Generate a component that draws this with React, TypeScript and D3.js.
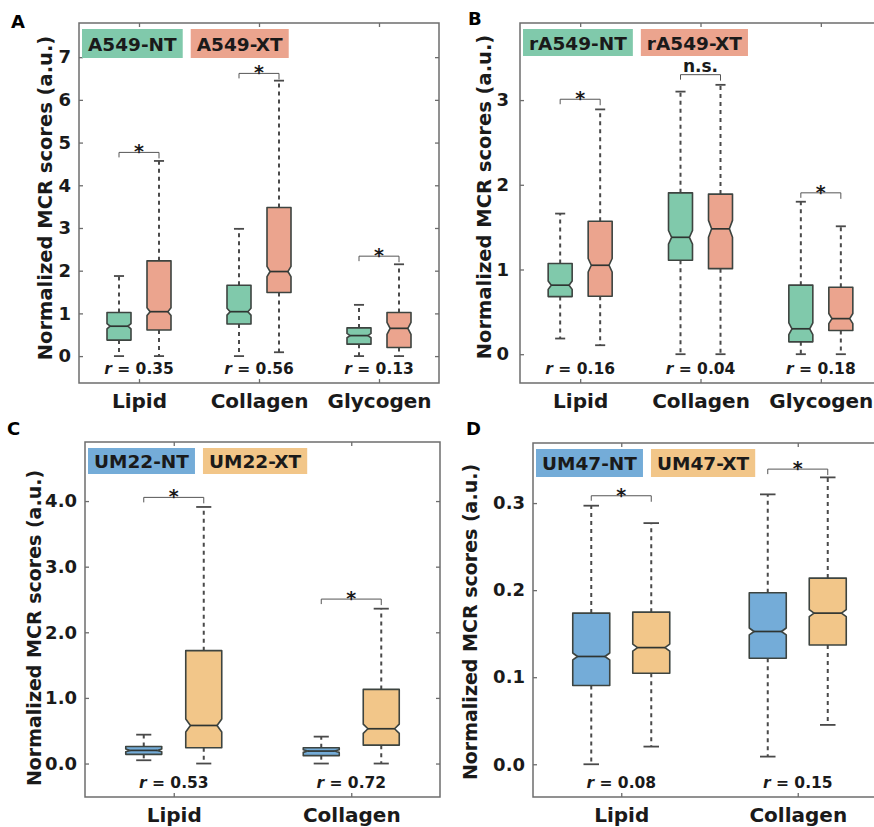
import React, { useEffect, useRef } from "react";
import * as d3 from "d3";

// box stats per category: [low whisker, q1, median, q3, high whisker, notch half-height]
const catsThree = ["Lipid", "Collagen", "Glycogen"];
const catsTwo = ["Lipid", "Collagen"];
const groups = ["NT", "XT"];

const a549NT = [[0, 0.375, 0.7, 1.02, 1.875, 0.06], [0, 0.75, 1.04, 1.66, 2.98, 0.08], [0, 0.28, 0.48, 0.66, 1.2, 0.05]];
const a549XT = [[0, 0.61, 1.04, 2.23, 4.57, 0.09], [0.09, 1.49, 1.98, 3.48, 6.45, 0.12], [0, 0.2, 0.65, 1.02, 2.15, 0.14]];
const a549R = ["0.35", "0.56", "0.13"];
const a549Sig = [4.77, 6.62, 2.34];
const a549Marks = ["*", "*", "*"];
const a549Ticks = [0, 1, 2, 3, 4, 5, 6, 7];

const rA549NT = [[0.185, 0.68, 0.815, 1.07, 1.66, 0.05], [0, 1.11, 1.38, 1.905, 3.1, 0.08], [0, 0.146, 0.3, 0.815, 1.8, 0.07]];
const rA549XT = [[0.106, 0.685, 1.05, 1.57, 2.89, 0.08], [0, 1.01, 1.48, 1.89, 3.18, 0.1], [0, 0.28, 0.42, 0.79, 1.51, 0.06]];
const rA549R = ["0.16", "0.04", "0.18"];
const rA549Sig = [3.01, 3.3, 1.905];
const rA549Marks = ["*", "n.s.", "*"];
const rA549Ticks = [0, 1, 2, 3];

const um22NT = [[0.05, 0.14, 0.2, 0.26, 0.44, 0.02], [0, 0.12, 0.19, 0.24, 0.41, 0.02]];
const um22XT = [[0, 0.24, 0.58, 1.72, 3.91, 0.1], [0, 0.28, 0.53, 1.13, 2.36, 0.07]];
const um22R = ["0.53", "0.72"];
const um22Sig = [4.056, 2.506];
const um22Marks = ["*", "*"];
const um22Ticks = [0, 1, 2, 3, 4];

const um47NT = [[0, 0.0904, 0.1238, 0.1736, 0.297, 0.004], [0.0088, 0.1218, 0.1525, 0.197, 0.31, 0.004]];
const um47XT = [[0.0203, 0.1046, 0.134, 0.1747, 0.277, 0.004], [0.0452, 0.137, 0.1736, 0.2138, 0.3295, 0.004]];
const um47R = ["0.08", "0.15"];
const um47Sig = [0.3084, 0.339];
const um47Marks = ["*", "*"];
const um47Ticks = [0, 0.1, 0.2, 0.3];

const teal = "#80c9ab";
const salmon = "#eba48e";
const blue = "#74acd8";
const tan = "#f2c689";

const FONT = "'DejaVu Sans', sans-serif";

const panels = [
  {
    letter: "A", lx: 11, ly: 28,
    x0: 79, x1: 439, y0: 23, y1: 383, domain: [-0.63, 7.8],
    cats: catsThree, nt: a549NT, xt: a549XT, r: a549R, sig: a549Sig, marks: a549Marks,
    ticks: a549Ticks, fmt: d3.format("d"), names: ["A549-NT", "A549-XT"], colors: [teal, salmon],
    off: 20, bw: 24, tickPad: 8, titleX: 45, titleY: 198, titleSize: 19.5, legH: 29,
  },
  {
    letter: "B", lx: 468, ly: 25,
    x0: 520, x1: 881, y0: 23, y1: 383, domain: [-0.34, 3.91],
    cats: catsThree, nt: rA549NT, xt: rA549XT, r: rA549R, sig: rA549Sig, marks: rA549Marks,
    ticks: rA549Ticks, fmt: d3.format("d"), names: ["rA549-NT", "rA549-XT"], colors: [teal, salmon],
    off: 20, bw: 24, tickPad: 11, titleX: 484, titleY: 197, titleSize: 19.5, legH: 27,
  },
  {
    letter: "C", lx: 7, ly: 435,
    x0: 85, x1: 440, y0: 442, y1: 797, domain: [-0.51, 4.9],
    cats: catsTwo, nt: um22NT, xt: um22XT, r: um22R, sig: um22Sig, marks: um22Marks,
    ticks: um22Ticks, fmt: d3.format(".1f"), names: ["UM22-NT", "UM22-XT"], colors: [blue, tan],
    off: 30, bw: 36, tickPad: 8, titleX: 34, titleY: 628, titleSize: 19, legH: 26,
  },
  {
    letter: "D", lx: 466, ly: 435,
    x0: 533, x1: 886, y0: 443, y1: 797, domain: [-0.0376, 0.369],
    cats: catsTwo, nt: um47NT, xt: um47XT, r: um47R, sig: um47Sig, marks: um47Marks,
    ticks: um47Ticks, fmt: d3.format(".1f"), names: ["UM47-NT", "UM47-XT"], colors: [blue, tan],
    off: 30, bw: 37, tickPad: 8, titleX: 470, titleY: 622, titleSize: 19, legH: 28,
  },
];

const App = () => {
  const ref = useRef<SVGSVGElement>(null);

  useEffect(() => {
    const svg = d3.select(ref.current);
    svg.selectAll("*").remove();
    svg.append("rect").attr("width", 874).attr("height", 827).attr("fill", "#fff");

    panels.forEach((p) => {
      const g = svg.append("g").style("font-family", FONT);

      const x = d3.scalePoint().domain(p.cats).range([p.x0, p.x1]).padding(0.5);
      const sub = d3.scalePoint().domain(groups).range([-p.off, p.off]);
      const y = d3.scaleLinear().domain(p.domain).range([p.y1, p.y0]);

      // panel letter
      g.append("text").attr("x", p.lx).attr("y", p.ly)
        .attr("font-size", 18).attr("font-weight", "bold").text(p.letter);

      // axes with inward ticks
      const styleAxis = (sel: any) => {
        sel.select(".domain").remove();
        sel.selectAll(".tick line").attr("stroke", "#6d6d6d").attr("stroke-width", 1.3);
        sel.selectAll(".tick text").attr("fill", "#1a1a1a")
          .style("font-family", FONT).style("font-weight", "bold").style("font-size", "18px");
      };
      g.append("g").attr("transform", `translate(${p.x0},0)`)
        .call(d3.axisLeft(y).tickValues(p.ticks).tickFormat(p.fmt as any).tickSizeInner(-4).tickSizeOuter(0).tickPadding(p.tickPad))
        .call(styleAxis);
      g.append("g").attr("transform", `translate(${p.x1},0)`)
        .call(d3.axisRight(y).tickValues(p.ticks).tickFormat(() => "").tickSizeInner(-4).tickSizeOuter(0))
        .call(styleAxis);
      g.append("g").attr("transform", `translate(0,${p.y1})`)
        .call(d3.axisBottom(x).tickSizeInner(-4).tickSizeOuter(0).tickPadding(11))
        .call(styleAxis)
        .call((s: any) => s.selectAll(".tick text").style("font-size", "20px").attr("dy", "0.71em"));
      g.append("g").attr("transform", `translate(0,${p.y0})`)
        .call(d3.axisTop(x).tickFormat(() => "").tickSizeInner(-4).tickSizeOuter(0))
        .call(styleAxis);

      // frame
      g.append("rect").attr("x", p.x0).attr("y", p.y0)
        .attr("width", p.x1 - p.x0).attr("height", p.y1 - p.y0)
        .attr("fill", "none").attr("stroke", "#6d6d6d").attr("stroke-width", 1.5);

      // y title
      g.append("text")
        .attr("transform", `translate(${p.titleX},${p.titleY}) rotate(-90)`)
        .attr("text-anchor", "middle").attr("dy", "0.35em")
        .attr("font-size", p.titleSize).attr("font-weight", "bold").attr("fill", "#1a1a1a")
        .text("Normalized MCR scores (a.u.)");

      // legend
      let lx = p.x0 + 3;
      p.names.forEach((name, i) => {
        const t = g.append("text").attr("y", p.y0 + p.legH / 2 + 13)
          .attr("font-size", 18.5).attr("font-weight", "bold").attr("fill", "#1a1a1a").text(name);
        const w = (t.node() as SVGTextElement).getComputedTextLength() + 12;
        g.insert("rect", () => t.node() as any)
          .attr("x", lx).attr("y", p.y0 + 6).attr("width", w).attr("height", p.legH)
          .attr("fill", p.colors[i]);
        t.attr("x", lx + 6);
        lx += w + 8;
      });

      // boxes
      [p.nt, p.xt].forEach((series, gi) => {
        series.forEach((d, ci) => {
          const [lo, q1, med, q3, hi, n] = d;
          const cx = (x(p.cats[ci]) as number) + (sub(groups[gi]) as number);
          const hw = p.bw / 2;
          const ind = p.bw * 0.13;
          const cap = p.bw * 0.42;
          const nTop = Math.min(med + n, q3);
          const nBot = Math.max(med - n, q1);

          g.append("line").attr("x1", cx).attr("x2", cx).attr("y1", y(q3)).attr("y2", y(hi))
            .attr("stroke", "#4a4a4a").attr("stroke-width", 2).attr("stroke-dasharray", "4,4");
          g.append("line").attr("x1", cx).attr("x2", cx).attr("y1", y(q1)).attr("y2", y(lo))
            .attr("stroke", "#4a4a4a").attr("stroke-width", 2).attr("stroke-dasharray", "4,4");
          [hi, lo].forEach((v) => {
            g.append("line").attr("x1", cx - cap / 2).attr("x2", cx + cap / 2)
              .attr("y1", y(v)).attr("y2", y(v)).attr("stroke", "#4a4a4a").attr("stroke-width", 1.8);
          });

          const pts: [number, number][] = [
            [cx - hw, y(q3)], [cx + hw, y(q3)], [cx + hw, y(nTop)], [cx + hw - ind, y(med)],
            [cx + hw, y(nBot)], [cx + hw, y(q1)], [cx - hw, y(q1)], [cx - hw, y(nBot)],
            [cx - hw + ind, y(med)], [cx - hw, y(nTop)],
          ];
          g.append("path").attr("d", d3.line()(pts) + "Z")
            .attr("fill", p.colors[gi]).attr("stroke", "#3d4440").attr("stroke-width", 1.6)
            .attr("stroke-linejoin", "round");
          g.append("line").attr("x1", cx - hw + ind).attr("x2", cx + hw - ind)
            .attr("y1", y(med)).attr("y2", y(med)).attr("stroke", "#2f3532").attr("stroke-width", 1.7);
        });
      });

      // significance brackets and r labels
      p.cats.forEach((c, ci) => {
        const xa = (x(c) as number) + (sub("NT") as number);
        const xb = (x(c) as number) + (sub("XT") as number);
        const by = y(p.sig[ci]);
        g.append("path").attr("d", `M${xa},${by + 5}V${by}H${xb}V${by + 6}`)
          .attr("fill", "none").attr("stroke", "#555").attr("stroke-width", 1);
        const mark = p.marks[ci];
        g.append("text").attr("x", (xa + xb) / 2).attr("y", mark === "*" ? by + 6 : by - 3)
          .attr("text-anchor", "middle").attr("font-size", mark === "*" ? 19 : 17).attr("font-weight", "bold")
          .attr("fill", "#1a1a1a").text(mark);

        const rt = g.append("text").attr("x", x(c) as number).attr("y", p.y1 - 9)
          .attr("text-anchor", "middle").attr("font-size", 15.5).attr("font-weight", "bold")
          .attr("fill", "#1a1a1a");
        rt.append("tspan").attr("font-style", "italic").text("r");
        rt.append("tspan").text(` = ${p.r[ci]}`);
      });
    });
  }, []);

  return (
    <svg ref={ref} width={874} height={827}
      style={{ position: "absolute", left: 0, top: 0, display: "block" }} />
  );
};

export default App;
